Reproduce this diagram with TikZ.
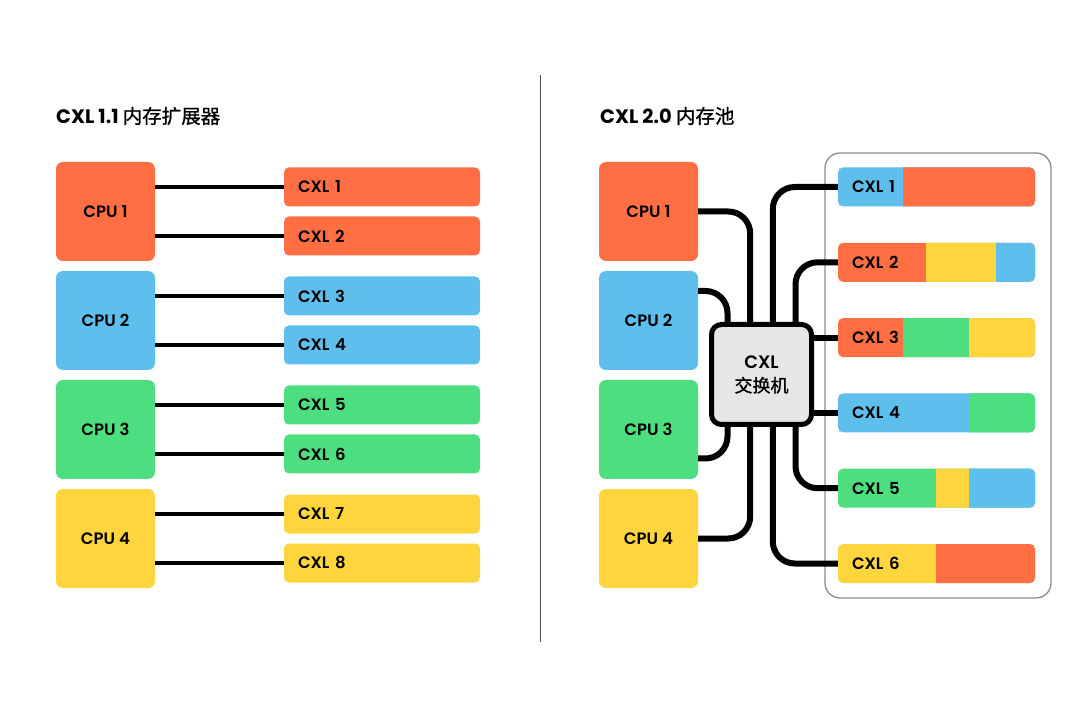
\documentclass[tikz,border=0pt]{standalone}
\usepackage{fontspec}
\setmainfont{Poppins}[BoldFont={Poppins SemiBold}]
\newfontfamily\titlefont{Poppins Bold}
\newfontfamily\cjk{Noto Sans CJK SC}
\newfontfamily\cjkm{Noto Sans CJK SC}[FakeBold=1]
\usetikzlibrary{calc}
\definecolor{corange}{HTML}{FF6F43}
\definecolor{cblue}{HTML}{5EBFEC}
\definecolor{cgreen}{HTML}{4DDE80}
\definecolor{cyellow}{HTML}{FFD53E}
\definecolor{swgray}{HTML}{E6E6E6}
\definecolor{framegray}{HTML}{8C8C8C}
\newcommand{\seg}[3]{\fill[#1] ($(path picture bounding box.south west)+(#2pt,-5pt)$) rectangle ($(path picture bounding box.north west)+(#3pt,5pt)$);}
\tikzset{
  cpubox/.style={rounded corners=7pt, minimum width=99pt, minimum height=99pt, inner sep=0pt,
    font=\fontsize{16.5}{18}\selectfont\bfseries, text=black},
  lbar/.style={rounded corners=5pt, text width=168pt, inner xsep=14pt, inner ysep=0pt,
    minimum height=39pt, align=left, font=\fontsize{16.5}{18}\selectfont\bfseries, text=black},
  rbar/.style={rounded corners=5pt, text width=169pt, inner xsep=14pt, inner ysep=0pt,
    minimum height=39pt, align=left, font=\fontsize{16.5}{18}\selectfont\bfseries, text=black},
  titletext/.style={anchor=west, inner sep=0pt, font=\fontsize{19.5}{22}\selectfont\titlefont},
  lwire/.style={line width=4pt, black},
  rwire/.style={line width=6pt, black, rounded corners=22pt},
  switchbox/.style={draw=black, line width=5pt, fill=swgray, rounded corners=10pt,
    minimum width=100pt, minimum height=100pt, inner sep=0pt, align=center,
    font=\fontsize{18}{24}\selectfont},
}
\begin{document}
\begin{tikzpicture}[x=1pt,y=-1pt]
\useasboundingbox (0,0) rectangle (1080,719);
\fill[white] (0,0) rectangle (1080,719);

% titles
\node[titletext] (t1) at (56,116) {CXL 1.1 {\cjkm 内存扩展器}};
\node[titletext] (t2) at (600,116) {CXL 2.0 {\cjkm 内存池}};

% divider
\draw[line width=1pt, color=black!70] (540,75) -- (540,642);

% ---------- left ----------
\node[cpubox, fill=corange] (lcpu1) at (105.5,211.5) {CPU 1};
\node[cpubox, fill=cblue]   (lcpu2) at (105.5,320.5) {CPU 2};
\node[cpubox, fill=cgreen]  (lcpu3) at (105.5,429.5) {CPU 3};
\node[cpubox, fill=cyellow] (lcpu4) at (105.5,538.5) {CPU 4};

\node[lbar, fill=corange] (lbar1) at (382,187) {CXL 1};
\node[lbar, fill=corange] (lbar2) at (382,236) {CXL 2};
\node[lbar, fill=cblue]   (lbar3) at (382,296) {CXL 3};
\node[lbar, fill=cblue]   (lbar4) at (382,345) {CXL 4};
\node[lbar, fill=cgreen]  (lbar5) at (382,405) {CXL 5};
\node[lbar, fill=cgreen]  (lbar6) at (382,454) {CXL 6};
\node[lbar, fill=cyellow] (lbar7) at (382,514) {CXL 7};
\node[lbar, fill=cyellow] (lbar8) at (382,563) {CXL 8};

\draw[lwire] (lbar1.west -| lcpu1.east) -- (lbar1.west);
\draw[lwire] (lbar2.west -| lcpu1.east) -- (lbar2.west);
\draw[lwire] (lbar3.west -| lcpu2.east) -- (lbar3.west);
\draw[lwire] (lbar4.west -| lcpu2.east) -- (lbar4.west);
\draw[lwire] (lbar5.west -| lcpu3.east) -- (lbar5.west);
\draw[lwire] (lbar6.west -| lcpu3.east) -- (lbar6.west);
\draw[lwire] (lbar7.west -| lcpu4.east) -- (lbar7.west);
\draw[lwire] (lbar8.west -| lcpu4.east) -- (lbar8.west);

% ---------- right ----------
\draw[framegray, line width=1.3pt, rounded corners=15pt] (825,153) rectangle (1051,598);

\node[cpubox, fill=corange] (rcpu1) at (648.5,211.5) {CPU 1};
\node[cpubox, fill=cblue]   (rcpu2) at (648.5,320.5) {CPU 2};
\node[cpubox, fill=cgreen]  (rcpu3) at (648.5,429.5) {CPU 3};
\node[cpubox, fill=cyellow] (rcpu4) at (648.5,538.5) {CPU 4};

\node[switchbox] (sw) at (761.5,374.5) {{\bfseries CXL}\\{\cjkm 交换机}};

\node[rbar, fill=cblue, path picture={\seg{corange}{65}{210}}] (rbar1) at (936.5,187) {CXL 1};
\node[rbar, fill=corange, path picture={\seg{cyellow}{88}{158}\seg{cblue}{158}{210}}] (rbar2) at (936.5,262.3) {CXL 2};
\node[rbar, fill=corange, path picture={\seg{cgreen}{65}{131}\seg{cyellow}{131}{210}}] (rbar3) at (936.5,337.6) {CXL 3};
\node[rbar, fill=cblue, path picture={\seg{cgreen}{131}{210}}] (rbar4) at (936.5,412.9) {CXL 4};
\node[rbar, fill=cgreen, path picture={\seg{cyellow}{98}{131}\seg{cblue}{131}{210}}] (rbar5) at (936.5,488.2) {CXL 5};
\node[rbar, fill=cyellow, path picture={\seg{corange}{98}{210}}] (rbar6) at (936.5,563.5) {CXL 6};

% wires CPU -> switch
\draw[rwire] (rcpu1.east) -| ($(sw.north)+(-11.3,0)$);
\draw[rwire] ($(rcpu2.east)+(0,-29.5)$) -| ($(sw.north)+(-34,0)$);
\draw[rwire] ($(rcpu3.east)+(0,29)$) -| ($(sw.south)+(-34,0)$);
\draw[rwire] (rcpu4.east) -| ($(sw.south)+(-11.3,0)$);
% wires switch -> CXL
\draw[rwire] ($(sw.north)+(11.3,0)$) |- (rbar1.west);
\draw[rwire] ($(sw.north)+(34,0)$) |- (rbar2.west);
\draw[rwire] (sw.east |- rbar3.west) -- (rbar3.west);
\draw[rwire] (sw.east |- rbar4.west) -- (rbar4.west);
\draw[rwire] ($(sw.south)+(34,0)$) |- (rbar5.west);
\draw[rwire] ($(sw.south)+(11.3,0)$) |- (rbar6.west);
\end{tikzpicture}
\end{document}
